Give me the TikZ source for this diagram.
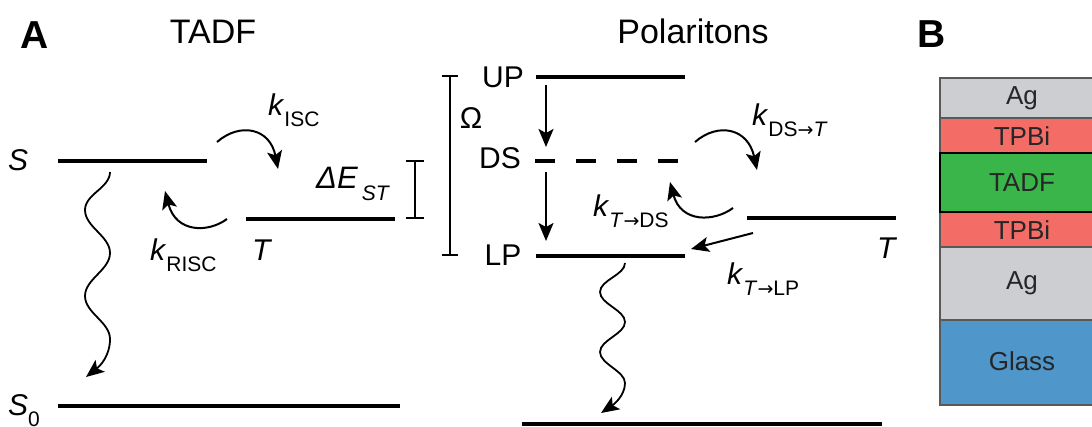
\documentclass[tikz,border=0pt]{standalone}
\usepackage{fontspec}
\setmainfont{Liberation Sans}
\newfontfamily\arrfont{DejaVu Sans}
\usetikzlibrary{arrows.meta}
\definecolor{agcol}{HTML}{CDCED2}
\definecolor{tpbicol}{HTML}{F36C66}
\definecolor{tadfcol}{HTML}{3AB54A}
\definecolor{glasscol}{HTML}{4F96CB}
\definecolor{txtcol}{HTML}{262626}
\newcommand\subsz{\fontsize{21pt}{21pt}\selectfont}
\newcommand\klab[1]{\textit{k}\raisebox{-11pt}{\subsz #1}}
\newcommand\rarr{{\arrfont\fontsize{19pt}{19pt}\selectfont →}}
\begin{document}
\begin{tikzpicture}[x=1pt,y=-1pt,
  level/.style={line width=4pt},
  brk/.style={line width=1.5pt},
  carr/.style={line width=2pt,-{Stealth[length=18pt,width=15pt,inset=4pt]}},
  wav/.style={line width=1.8pt,-{Stealth[length=18pt,width=15pt,inset=4pt]}},
  lab/.style={inner sep=0pt,font=\fontsize{30pt}{30pt}\selectfont},
  klabel/.style={inner sep=0pt,anchor=base west,font=\fontsize{30pt}{30pt}\selectfont},
  title/.style={inner sep=0pt,anchor=base,font=\fontsize{34pt}{34pt}\selectfont},
  panel/.style={inner sep=0pt,anchor=base,font=\fontsize{39pt}{39pt}\selectfont\bfseries},
  layer/.style={draw=black!65,line width=1.5pt},
  laytext/.style={inner sep=0pt,text=txtcol,font=\fontsize{26pt}{26pt}\selectfont}]
\useasboundingbox (0,0) rectangle (1092,426);
\clip (0,0) rectangle (1092,426);

% ---------- titles
\node[panel] (pA) at (35,48) {A};
\node[panel] (pB) at (932,47) {B};
\node[title] (tTADF) at (213,43) {TADF};
\node[title] (tPol) at (693,43) {Polaritons};

% ---------- TADF levels
\coordinate (S-l) at (58,161);  \coordinate (S-r) at (207,161);
\coordinate (T-l) at (246,219); \coordinate (T-r) at (395,219);
\coordinate (S0-l) at (58,406); \coordinate (S0-r) at (400,406);
\draw[level] (S-l) -- (S-r);
\draw[level] (T-l) -- (T-r);
\draw[level] (S0-l) -- (S0-r);
\node[lab,anchor=base west] (Slab) at (8,170) {\textit{S}};
\node[lab,anchor=base west] (S0lab) at (8,415) {\textit{S}\raisebox{-11pt}{\subsz 0}};
\node[lab,anchor=base west] (Tlab) at (252,260) {\textit{T}};

% Delta E bracket
\coordinate (dE-t) at (415,161); \coordinate (dE-b) at (415,218);
\draw[brk] (dE-t) -- (dE-b);
\draw[brk] ([xshift=-9pt]dE-t) -- ([xshift=9pt]dE-t);
\draw[brk] ([xshift=-9pt]dE-b) -- ([xshift=9pt]dE-b);
\node[klabel,font=\fontsize{31pt}{31pt}\selectfont] (dElab) at (316,188) {\textit{ΔE}\hspace{4pt}\raisebox{-12pt}{\subsz\itshape ST}};

% ISC / RISC arrows
\coordinate (isc-a) at (217,142); \coordinate (isc-b) at (278,169);
\draw[carr] (isc-a) .. controls (240,122) and (270,128) .. (isc-b);
\node[klabel] (kisc) at (268,115) {\klab{ISC}};
\coordinate (risc-a) at (227,219); \coordinate (risc-b) at (165,191);
\draw[carr] (risc-a) .. controls (208,233) and (176,233) .. (risc-b);
\node[klabel] (krisc) at (150,260) {\klab{RISC}};

% S -> S0 wavy
\coordinate (w1-a) at (110,172); \coordinate (w1-b) at (86,377);
\draw[wav] (w1-a) .. controls (110,188) and (85,194) .. (85,210)
  .. controls (85,227) and (110,236) .. (110,253)
  .. controls (110,270) and (85,279) .. (85,296)
  .. controls (85,313) and (110,322) .. (110,339)
  .. controls (110,356) and (100,366) .. (w1-b);

% ---------- Polaritons
\coordinate (UP-l) at (536,77);  \coordinate (UP-r) at (685,77);
\coordinate (DS-l) at (535,161); \coordinate (DS-r) at (678,161);
\coordinate (LP-l) at (536,256); \coordinate (LP-r) at (685,256);
\coordinate (T2-l) at (747,218); \coordinate (T2-r) at (896,218);
\coordinate (G2-l) at (522,424); \coordinate (G2-r) at (882,424);
\draw[level] (UP-l) -- (UP-r);
\draw[level,dash pattern=on 20pt off 21pt] (DS-l) -- (DS-r);
\draw[level] (LP-l) -- (LP-r);
\draw[level] (T2-l) -- (T2-r);
\draw[level] (G2-l) -- (G2-r);
\node[lab,anchor=base] (UPlab) at (503,87) {UP};
\node[lab,anchor=base] (DSlab) at (500,168) {DS};
\node[lab,anchor=base] (LPlab) at (503,265) {LP};
\node[lab,anchor=base west] (T2lab) at (877,258) {\textit{T}};

% Omega bracket
\coordinate (om-t) at (450,76); \coordinate (om-b) at (450,255);
\draw[brk] (om-t) -- (om-b);
\draw[brk] ([xshift=-8pt]om-t) -- ([xshift=8pt]om-t);
\draw[brk] ([xshift=-8pt]om-b) -- ([xshift=8pt]om-b);
\node[lab,anchor=base] (omlab) at (471,128) {Ω};

% vertical relaxation arrows
\coordinate (v1-a) at (546,85);  \coordinate (v1-b) at (546,147);
\coordinate (v2-a) at (546,172); \coordinate (v2-b) at (546,241);
\draw[carr] (v1-a) -- (v1-b);
\draw[carr] (v2-a) -- (v2-b);

% DS <-> T arrows
\coordinate (dst-a) at (695,142); \coordinate (dst-b) at (757,170);
\draw[carr] (dst-a) .. controls (718,122) and (748,128) .. (dst-b);
\node[klabel] (kdst) at (752,125) {\klab{DS\rarr\textit{T}}};
\coordinate (tds-a) at (733,208); \coordinate (tds-b) at (670,182);
\draw[carr] (tds-a) .. controls (714,222) and (681,223) .. (tds-b);
\node[klabel] (ktds) at (593,216) {\klab{\textit{T}\rarr DS}};
\coordinate (tlp-a) at (753,233); \coordinate (tlp-b) at (691,249);
\draw[carr] (tlp-a) -- (tlp-b);
\node[klabel] (ktlp) at (727,284) {\klab{\textit{T}\rarr LP}};

% LP -> ground wavy
\coordinate (w2-a) at (625,263); \coordinate (w2-b) at (601,413);
\draw[wav] (w2-a) .. controls (625,275) and (600,280) .. (600,292)
  .. controls (600,304) and (625,310) .. (625,322)
  .. controls (625,334) and (600,340) .. (600,352)
  .. controls (600,364) and (625,371) .. (625,383)
  .. controls (625,396) and (613,405) .. (w2-b);

% ---------- B: device stack
\fill[agcol] (940,78) rectangle (1104,118);
\fill[tpbicol] (940,118) rectangle (1104,153);
\fill[tadfcol] (940,153) rectangle (1104,212);
\fill[tpbicol] (940,212) rectangle (1104,247);
\fill[agcol] (940,247) rectangle (1104,320);
\fill[glasscol] (940,320) rectangle (1104,405);
\draw[layer] (940,78) rectangle (1104,405);
\draw[layer] (940,118) -- (1104,118);
\draw[layer] (940,247) -- (1104,247);
\draw[layer] (940,320) -- (1104,320);
\draw[line width=2pt,black] (940,153) rectangle (1104,212);
\node[laytext] (agtop) at (1022,98) {Ag};
\node[laytext] (tpbitop) at (1022,136) {TPBi};
\node[laytext] (tadflay) at (1022,183) {TADF};
\node[laytext] (tpbibot) at (1022,230) {TPBi};
\node[laytext] (agbot) at (1022,283) {Ag};
\node[laytext] (glass) at (1022,361) {Glass};
\end{tikzpicture}
\end{document}
